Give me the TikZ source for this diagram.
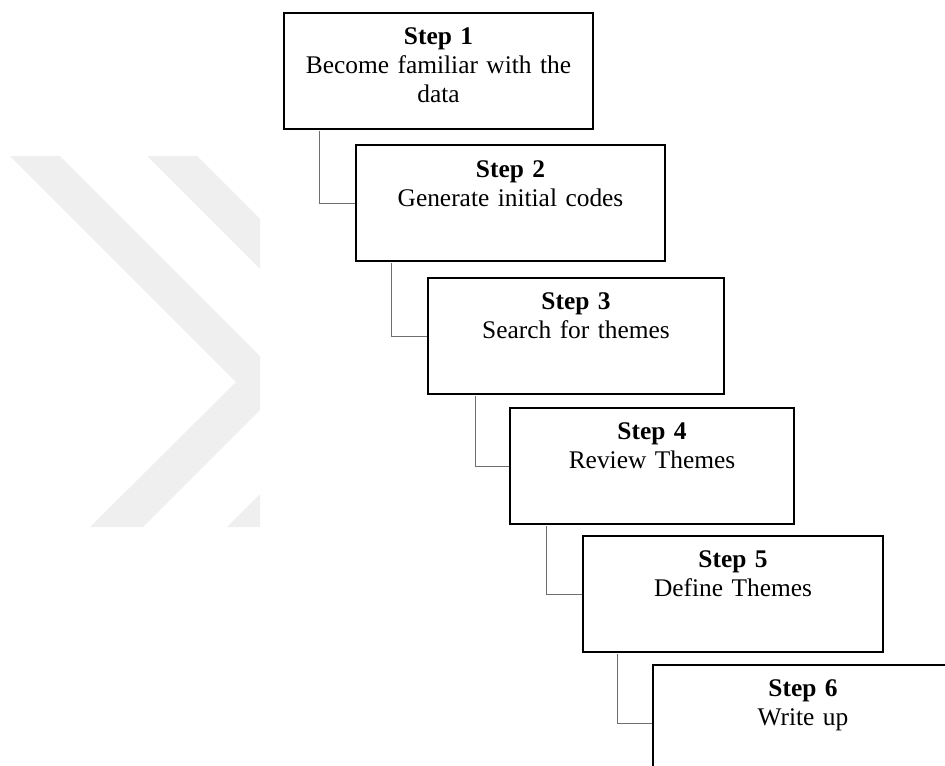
\documentclass[tikz,border=0pt]{standalone}
\usepackage{fontspec}
\setmainfont{Liberation Serif}
\definecolor{wm}{HTML}{EFEFEF}
\definecolor{conncol}{HTML}{6E6E6E}
\begin{document}
\begin{tikzpicture}[x=0.5pt,y=-0.5pt,
  stepbox/.style={draw=black, line width=1pt, fill=white, minimum width=150pt, minimum height=58pt, inner sep=0pt, anchor=north west},
  steptext/.style={text width=145pt, align=center, anchor=base, inner sep=0pt, font=\fontsize{12.7}{14.5}\selectfont},
  conn/.style={draw=conncol, line width=0.5pt}]
\useasboundingbox (0,0) rectangle (945,765);
\clip (0,0) rectangle (945,765);
% watermark chevrons
\begin{scope}
  \clip (0,156) rectangle (260,527);
  \fill[wm] (10,156) -- (60,156) -- (287,383) -- (143,527) -- (90,527) -- (236,382) -- cycle;
  \fill[wm] (147,156) -- (197,156) -- (424,383) -- (280,527) -- (227,527) -- (373,382) -- cycle;
\end{scope}
% boxes
\node[stepbox, minimum width=154.5pt] (b1) at (283,12) {};
\node[stepbox, minimum width=154.5pt] (b2) at (355,144) {};
\node[stepbox, minimum width=148pt] (b3) at (427,277) {};
\node[stepbox, minimum width=142pt] (b4) at (509,407) {};
\node[stepbox, minimum width=150pt] (b5) at (582,535) {};
\node[stepbox, minimum width=150pt] (b6) at (652,664) {};
% texts
\node[steptext] (t1) at ([yshift=-16.5pt]b1.north) {\textbf{Step 1}\\Become familiar with the\\data};
\node[steptext] (t2) at ([yshift=-16.5pt]b2.north) {\textbf{Step 2}\\Generate initial codes};
\node[steptext] (t3) at ([yshift=-16pt]b3.north) {\textbf{Step 3}\\Search for themes};
\node[steptext] (t4) at ([yshift=-16pt]b4.north) {\textbf{Step 4}\\Review Themes};
\node[steptext] (t5) at ([yshift=-16pt]b5.north) {\textbf{Step 5}\\Define Themes};
\node[steptext] (t6) at ([yshift=-16pt]b6.north) {\textbf{Step 6}\\Write up};
% connectors
\draw[conn] ([xshift=18pt,yshift=-0.5pt]b1.south west) |- (b2.west);
\draw[conn] ([xshift=18pt,yshift=-0.5pt]b2.south west) |- (b3.west);
\draw[conn] ([xshift=24pt,yshift=-0.5pt]b3.south west) |- (b4.west);
\draw[conn] ([xshift=18.5pt,yshift=-0.5pt]b4.south west) |- (b5.west);
\draw[conn] ([xshift=17.5pt,yshift=-0.5pt]b5.south west) |- (b6.west);
\end{tikzpicture}
\end{document}
